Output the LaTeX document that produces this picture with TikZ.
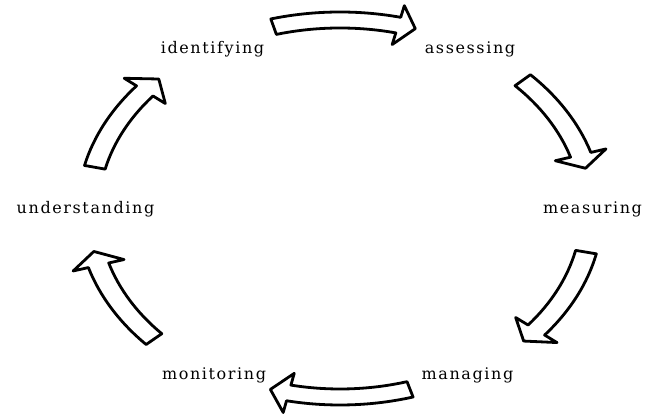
\documentclass[tikz,border=0pt]{standalone}
\usepackage{fontspec}
\setmainfont{DejaVu Serif}
\newfontfamily\lblfont[LetterSpace=10]{DejaVu Serif}
\tikzset{
  cyc/.style={draw=black, line width=2.1pt, line join=round, fill=white},
  lbl/.style={font=\lblfont\fontsize{12}{14}\selectfont, anchor=base, inner sep=0pt}
}
% #1 tail angle, #2 head base angle, #3 tip angle, #4 radius
\newcommand{\cycarrow}[4]{%
  \draw[cyc] ({#1}:{#4+8}) arc[start angle={#1}, end angle={#2}, radius={#4+8}]
    -- ({#2}:{#4+20}) -- ({#3}:{#4}) -- ({#2}:{#4-20}) -- ({#2}:{#4-8})
    arc[start angle={#2}, end angle={#1}, radius={#4-8}] -- cycle;}
\begin{document}
\begin{tikzpicture}[x=0.75pt,y=0.75pt]
\useasboundingbox (0,0) rectangle (646,416);
\node[lbl] (identifying) at (212.5,362.7) {identifying};
\node[lbl] (assessing) at (470,362.7) {assessing};
\node[lbl] (understanding) at (85.5,202.5) {understanding};
\node[lbl] (measuring) at (592.5,202) {measuring};
\node[lbl] (monitoring) at (214,36.7) {monitoring};
\node[lbl] (managing) at (467.5,36.7) {managing};
\begin{scope}[shift={(340,205)}, xscale=1.326]
\cycarrow{105.2}{76.7}{72.7}{191}
\cycarrow{43.5}{17.2}{13.0}{190}
\cycarrow{-12.5}{-38.8}{-43.2}{190}
\cycarrow{-73.5}{-102}{-106.4}{186}
\cycarrow{-137.6}{-163.4}{-167.7}{190}
\cycarrow{166.7}{140.8}{136.0}{190}
\end{scope}
\end{tikzpicture}
\end{document}
